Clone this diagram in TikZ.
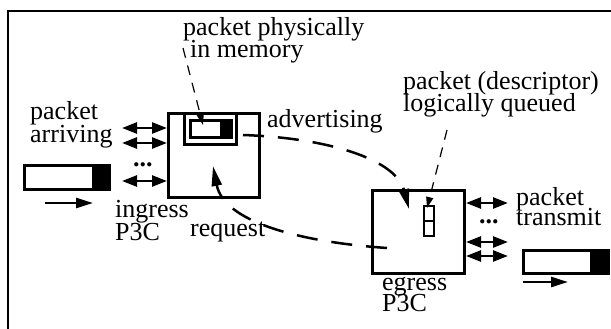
\documentclass[tikz,border=0pt]{standalone}
\usepackage{fontspec}
\setmainfont{Liberation Serif}
\usetikzlibrary{arrows.meta}
\newcommand{\twoline}[3]{\vtop{\baselineskip=#1pt\lineskiplimit=-100pt\hbox{#2}\hbox{#3}}}
\begin{document}
\begin{tikzpicture}[x=1pt,y=-1pt,
  lbl/.style={inner sep=0pt,anchor=base west,font=\fontsize{26}{26}\selectfont},
  dots/.style={inner sep=0pt,anchor=base west,font=\fontsize{26}{26}\selectfont\bfseries},
  boxline/.style={draw,line width=3pt,inner sep=0pt,anchor=north west},
  darr/.style={line width=2.6pt,{Triangle[length=15pt,width=11pt]}-{Triangle[length=15pt,width=11pt]}},
  sarr/.style={line width=2.6pt,-{Triangle[length=17pt,width=10pt]}},
  leader/.style={line width=1.2pt,dash pattern=on 10pt off 8pt,-{Triangle[length=11pt,width=7pt]}},
  flow/.style={line width=2.5pt,dash pattern=on 21pt off 14pt,-{Triangle[length=20pt,width=10pt]}}]
\useasboundingbox (0,0) rectangle (611,329);
% outer frame (cut by the page at right and bottom)
\draw[line width=2.5pt] (8,340) -- (8,11) -- (620,11);

% ingress P3C
\node[boxline,minimum width=91pt,minimum height=84pt] (ing) at (167,112) {};
\node[boxline,minimum width=52pt,minimum height=31pt] (mem) at (183,112) {};
\node[boxline,minimum width=41pt,minimum height=17pt] (mpk) at (189,119) {};
\fill (220,119) rectangle (230,136);

% egress P3C
\node[boxline,minimum width=92pt,minimum height=83pt] (egr) at (371,189) {};
\node[draw,line width=2pt,inner sep=0pt,minimum width=10pt,minimum height=30pt,anchor=north west] (dsc) at (423,205) {};
\draw[line width=2pt] (dsc.west) -- (dsc.east);

% left packet
\node[boxline,minimum width=85pt,minimum height=24pt] (lpk) at (23,164) {};
\fill (92,164) rectangle (108,188);
\coordinate (la1) at (45,203);
\coordinate (la2) at (93,203);
\draw[sarr] (la1) -- (la2);

% right packet
\node[boxline,minimum width=85pt,minimum height=23pt] (rpk) at (522,249) {};
\fill (590,249) rectangle (607,272);
\coordinate (ra1) at (523,282);
\coordinate (ra2) at (568,282);
\draw[sarr] (ra1) -- (ra2);

% ingress port arrows
\coordinate (ip1) at (122,128);
\coordinate (ip2) at (122,143);
\coordinate (ip3) at (122,181);
\draw[darr] (ip1) -- (ip1 -| ing.west);
\draw[darr] (ip2) -- (ip2 -| ing.west);
\draw[darr] (ip3) -- (ip3 -| ing.west);
\node[dots] (idots) at (133,166) {...};

% egress port arrows
\coordinate (ep1) at (508,203);
\coordinate (ep2) at (508,242);
\coordinate (ep3) at (508,256);
\draw[darr] (ep1 -| egr.east) -- (ep1);
\draw[darr] (ep2 -| egr.east) -- (ep2);
\draw[darr] (ep3 -| egr.east) -- (ep3);
\node[dots] (edots) at (479,223) {...};

% labels
\node[lbl] (phys) at (183,36) {\twoline{22}{packet physically}{\hspace{7pt}in memory}};
\node[lbl] (arr) at (30,120) {\twoline{23}{packet}{arriving}};
\node[lbl] (adv) at (267,128) {advertising};
\node[lbl] (desc) at (403,90) {\twoline{22}{packet (descriptor)}{logically queued}};
\node[lbl] (ingr) at (115,217) {\twoline{23}{ingress}{P3C}};
\node[lbl] (req) at (190,236) {request};
\node[lbl] (tx) at (516,205) {\twoline{20}{packet}{transmit}};
\node[lbl] (egrl) at (382,290) {\twoline{21}{egress}{P3C}};

% leaders
\coordinate (physend) at (183,48);
\coordinate (phystip) at (203,125);
\draw[leader] (physend) -- (phystip);
\coordinate (descend) at (447,130);
\coordinate (desctip) at (427,208);
\draw[leader] (descend) -- (desctip);

% advertising and request flows
\coordinate (advs) at (243,135);
\coordinate (advt) at (409,209);
\draw[flow] (advs) .. controls (330,138) and (396,160) .. (advt);
\coordinate (reqs) at (387,248);
\coordinate (reqt) at (213,166);
\draw[flow] (reqs) .. controls (300,242) and (224,222) .. (reqt);
\end{tikzpicture}
\end{document}
